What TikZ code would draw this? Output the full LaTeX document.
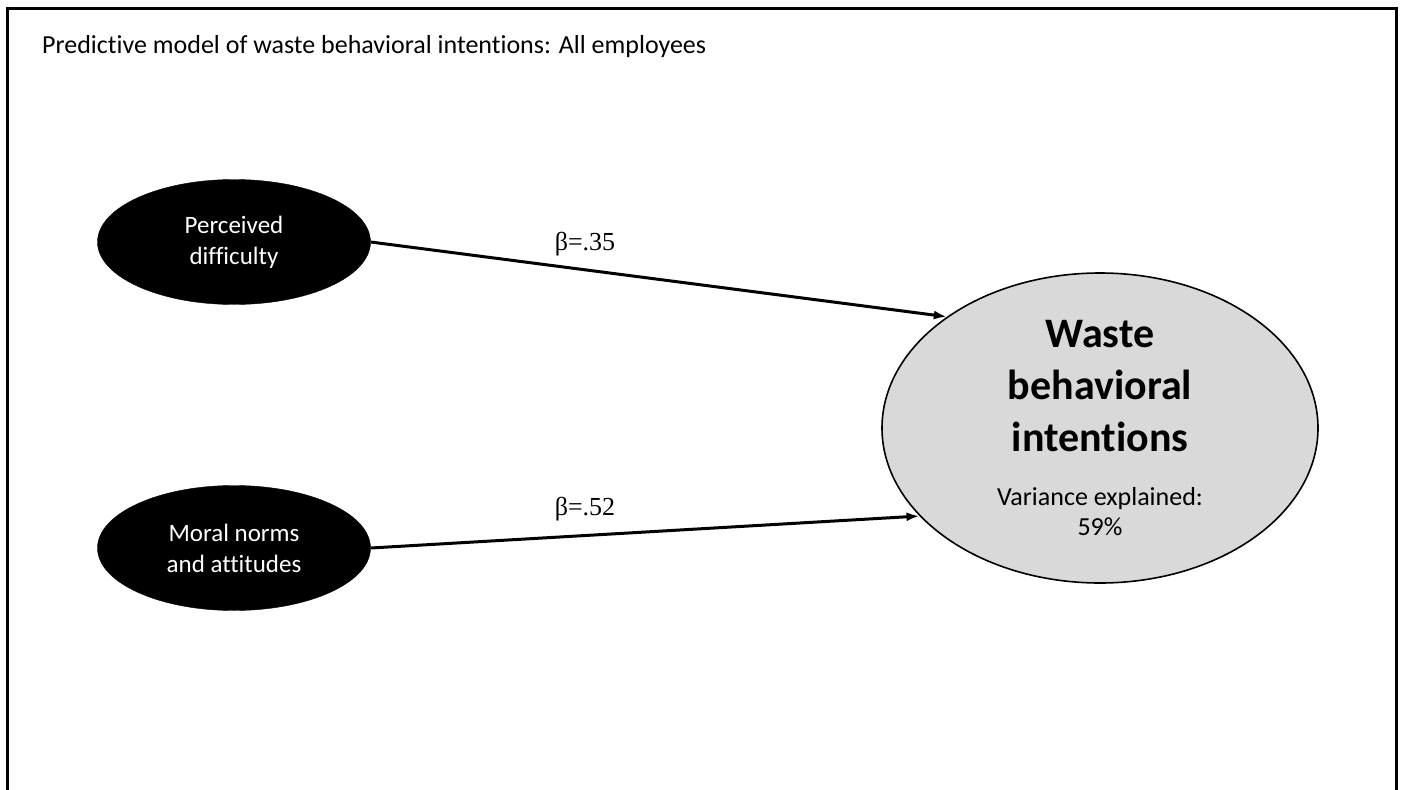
\documentclass[tikz,border=0pt]{standalone}
\usepackage{fontspec}
\setmainfont{Carlito}[Ligatures = NoCommon]
\newfontfamily\betafont{Liberation Serif}
\usetikzlibrary{shapes.geometric, arrows.meta, positioning}
\tikzstyle{factor} = [
  ellipse, fill = black, draw = black, text = white,
  minimum width = 273, minimum height = 125,
  align = center, font = \fontsize{25}{31}\selectfont, inner sep = 0
]
\tikzstyle{outcome} = [
  ellipse, fill = black!15, draw = black, line width = 1.6,
  minimum width = 436, minimum height = 310,
  align = center, inner sep = 0,
  font = \bfseries\fontsize{42}{52}\selectfont
]
\tikzstyle{link} = [-{Latex[length = 13, width = 9]}, line width = 3]
\tikzstyle{coef} = [anchor = base, font = \betafont\fontsize{26}{30}\selectfont]
\newcommand{\notefont}{\mdseries\fontsize{26}{30}\selectfont}

\begin{document}
\begin{tikzpicture}[x = 1pt, y = -1pt]
    \useasboundingbox (0, 0) rectangle (1401, 790);
    \draw [line width = 3] (7, 790) -- (7, 8) -- (1396, 8) -- (1396, 790);
    \node [anchor = base west, inner sep = 0, font = \fontsize{26}{30}\selectfont]
      (title) at (42, 53)
      {Predictive model of waste behavioral intentions: All employees};
    \node [factor] (difficulty) at (234, 242) {Perceived\\difficulty};
    \node [factor] (norms) at (234, 548) {Moral norms\\and attitudes};
    \node [outcome] (intentions) at (1100, 428)
      {Waste\\behavioral\\intentions\\[2pt]
       {\notefont Variance explained:}\\[-22pt]{\notefont 59\%}};
    \draw [link] (difficulty.east) -- (intentions.144);
    \draw [link] (norms.east) -- (intentions.206);
    \node [coef] (beta-1) at (585, 250) {β=.35};
    \node [coef] (beta-2) at (585, 515) {β=.52};
  \end{tikzpicture}
\end{document}
